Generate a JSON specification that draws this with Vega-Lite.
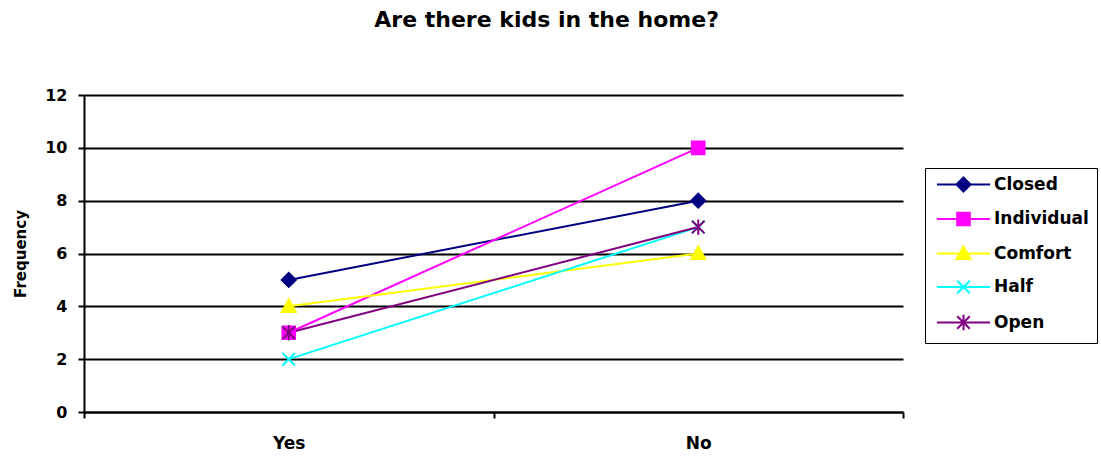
{
  "$schema": "https://vega.github.io/schema/vega-lite/v6.json",
  "autosize": {"type": "none"},
  "padding": {"left": 84, "top": 95, "right": 198, "bottom": 48},
  "width": 819,
  "height": 317,
  "title": {
    "text": "Are there kids in the home?",
    "font": "DejaVu Sans",
    "fontSize": 22,
    "fontWeight": "bold",
    "color": "black",
    "anchor": "middle",
    "frame": "bounds",
    "offset": 55,
    "dx": -9
  },
  "data": {
    "values": [
      {"series": "Closed", "kids": "Yes", "freq": 5},
      {"series": "Closed", "kids": "No", "freq": 8},
      {"series": "Individual", "kids": "Yes", "freq": 3},
      {"series": "Individual", "kids": "No", "freq": 10},
      {"series": "Comfort", "kids": "Yes", "freq": 4},
      {"series": "Comfort", "kids": "No", "freq": 6},
      {"series": "Half", "kids": "Yes", "freq": 2},
      {"series": "Half", "kids": "No", "freq": 7},
      {"series": "Open", "kids": "Yes", "freq": 3},
      {"series": "Open", "kids": "No", "freq": 7}
    ]
  },
  "encoding": {
    "x": {
      "field": "kids",
      "type": "nominal",
      "sort": ["Yes", "No"],
      "scale": {"type": "band", "paddingInner": 0, "paddingOuter": 0},
      "axis": {
        "title": null,
        "labelAngle": 0,
        "tickBand": "extent",
        "grid": false,
        "tickSize": 6,
        "labelPadding": 17,
        "labelFontSize": 17
      }
    },
    "y": {
      "field": "freq",
      "type": "quantitative",
      "scale": {"domain": [0, 12], "nice": false, "zero": true},
      "axis": {
        "title": "Frequency",
        "values": [0, 2, 4, 6, 8, 10, 12],
        "grid": true,
        "gridColor": "black",
        "gridOpacity": 1,
        "gridWidth": 2,
        "tickSize": 6,
        "labelPadding": 11,
        "labelFontSize": 16,
        "titleFontSize": 15,
        "titlePadding": 16
      }
    },
    "color": {
      "field": "series",
      "type": "nominal",
      "sort": ["Closed", "Individual", "Comfort", "Half", "Open"],
      "scale": {
        "domain": ["Closed", "Individual", "Comfort", "Half", "Open"],
        "range": ["#000080", "#FF00FF", "#FFFF00", "#00FFFF", "#800080"]
      },
      "legend": {
        "orient": "none",
        "legendX": 841,
        "legendY": 73,
        "title": null,
        "strokeColor": "black",
        "padding": 8,
        "rowPadding": 12.5,
        "symbolSize": 196,
        "symbolOffset": 22,
        "labelOffset": 22,
        "symbolStrokeWidth": 2,
        "symbolOpacity": 1,
        "symbolType": {"expr": "datum.value === 'Closed' ? 'M-3.8,0H3.8M0,-1L1,0L0,1L-1,0Z' : datum.value === 'Individual' ? 'M-3.8,0H3.8M-0.9,-0.9H0.9V0.9H-0.9Z' : datum.value === 'Comfort' ? 'M-3.8,0H3.8M0,-1L1,0.8H-1Z' : datum.value === 'Half' ? 'M-3.8,0H3.8M-0.9,-0.9L0.9,0.9M-0.9,0.9L0.9,-0.9' : 'M-3.8,0H3.8M-0.9,-0.9L0.9,0.9M-0.9,0.9L0.9,-0.9M0,-1.1V1.1'"},
        "labelFont": "DejaVu Sans",
        "labelFontSize": 17,
        "labelFontWeight": "bold",
        "labelColor": "black"
      }
    }
  },
  "layer": [
    {
      "mark": {"type": "line", "strokeWidth": 2},
      "encoding": {"detail": {"field": "series"}}
    },
    {
      "mark": {"type": "point", "filled": true, "size": 196, "strokeWidth": 2, "opacity": 1},
      "encoding": {
        "shape": {
          "field": "series",
          "type": "nominal",
          "sort": ["Closed", "Individual", "Comfort", "Half", "Open"],
          "scale": {
            "range": [
              "M0,-1L1,0L0,1L-1,0Z",
              "M-0.9,-0.9H0.9V0.9H-0.9Z",
              "M0,-1L1,0.8H-1Z",
              "M-0.9,-0.9L0.9,0.9M-0.9,0.9L0.9,-0.9",
              "M-0.9,-0.9L0.9,0.9M-0.9,0.9L0.9,-0.9M0,-1.1V1.1"
            ]
          },
          "legend": null
        },
        "stroke": {
          "field": "series",
          "type": "nominal",
          "scale": {
            "domain": ["Closed", "Individual", "Comfort", "Half", "Open"],
            "range": ["#000080", "#FF00FF", "#FFFF00", "#00FFFF", "#800080"]
          },
          "legend": null
        }
      }
    }
  ],
  "config": {
    "view": {"stroke": null},
    "axis": {
      "domainColor": "black",
      "domainWidth": 2,
      "tickColor": "black",
      "tickWidth": 2,
      "labelColor": "black",
      "labelFont": "DejaVu Sans",
      "labelFontWeight": "bold",
      "titleColor": "black",
      "titleFont": "DejaVu Sans",
      "titleFontWeight": "bold"
    }
  }
}
